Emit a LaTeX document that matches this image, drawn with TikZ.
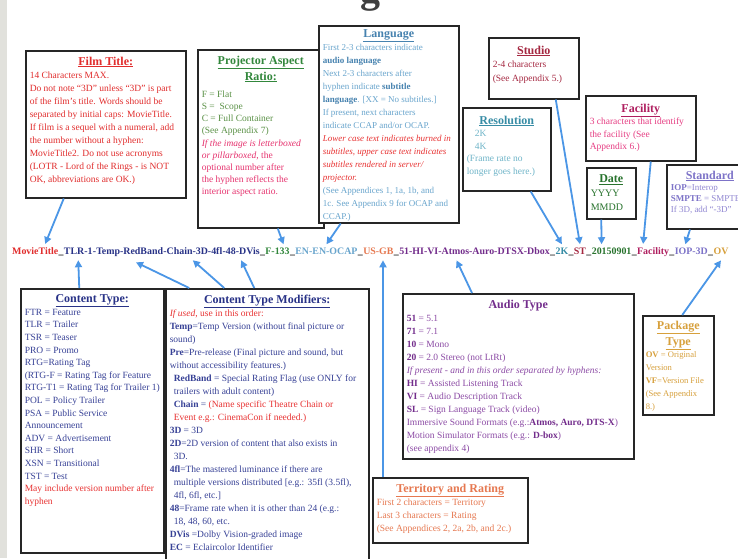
\documentclass[tikz,border=0pt]{standalone}
\usepackage{fontspec}
\setmainfont{Liberation Serif}
\usetikzlibrary{positioning,arrows.meta}
\definecolor{cfilm}{RGB}{225,45,45}
\definecolor{cprojt}{RGB}{50,135,60}
\definecolor{cproj}{RGB}{90,145,70}
\definecolor{cpink}{RGB}{230,50,110}
\definecolor{clangt}{RGB}{70,130,175}
\definecolor{clang}{RGB}{105,165,205}
\definecolor{cwarn}{RGB}{232,50,50}
\definecolor{cstudio}{RGB}{165,40,65}
\definecolor{cres}{RGB}{55,140,165}
\definecolor{cresl}{RGB}{110,180,200}
\definecolor{cfac}{RGB}{175,30,95}
\definecolor{cfacl}{RGB}{230,60,130}
\definecolor{cdate}{RGB}{40,115,45}
\definecolor{cstd}{RGB}{125,115,200}
\definecolor{cstdl}{RGB}{145,135,210}
\definecolor{cct}{RGB}{40,50,135}
\definecolor{cctl}{RGB}{55,65,150}
\definecolor{caud}{RGB}{115,45,140}
\definecolor{caudl}{RGB}{140,75,165}
\definecolor{cterr}{RGB}{230,120,80}
\definecolor{cpkg}{RGB}{215,160,60}
\definecolor{carrow}{RGB}{75,150,230}
\definecolor{cstrip}{RGB}{225,225,220}
\newcommand\infobox[3]{\begin{minipage}[t][#2][t]{#1}#3\end{minipage}}
\newcommand\boxtitle[2][2pt]{{\vspace*{#1}\centering\fontsize{12}{16}\selectfont\bfseries\underline{#2}\par}}

\begin{document}
\begin{tikzpicture}[x=1pt, y=-1pt,
    box/.style={draw=black!85, line width=1.5pt, fill=white, inner sep=4pt, anchor=north west, font=\fontsize{9.5}{12.6}\selectfont},
    seg/.style={inner sep=0pt, font=\fontsize{9.9}{11}\selectfont\bfseries},
    arr/.style={draw=carrow, line width=1.8pt, -{Triangle[length=7pt,width=7pt]}}]
    \useasboundingbox (0,0) rectangle (738,558);
    \clip (0,0) rectangle (738,558);
    \fill[white] (0,0) rectangle (738,558);
    \fill[cstrip] (0,0) rectangle (7,558);
    \node[font=\fontsize{40}{44}\selectfont\bfseries, text=black!75, anchor=base] (head) at (370,2) {g};

    \node[seg, anchor=base west, text=cfilm] (mt) at (12,254) {MovieTitle};
    \node[seg, base right=0pt of mt] (u1) {\_};
    \node[seg, base right=0pt of u1, text=cct] (tlr) {TLR-1};
    \node[seg, base right=0pt of tlr, text=cct] (tmp) {-Temp-RedBand};
    \node[seg, base right=0pt of tmp, text=cct] (chn) {-Chain-3D-4fl};
    \node[seg, base right=0pt of chn, text=cct] (dvs) {-48-DVis};
    \node[seg, base right=0pt of dvs] (u2) {\_};
    \node[seg, base right=0pt of u2, text=cprojt] (far) {F-133};
    \node[seg, base right=0pt of far] (u3) {\_};
    \node[seg, base right=0pt of u3, text=clang] (lng) {EN-EN-OCAP};
    \node[seg, base right=0pt of lng] (u4) {\_};
    \node[seg, base right=0pt of u4, text=cterr] (ter) {US-GB};
    \node[seg, base right=0pt of ter] (u5) {\_};
    \node[seg, base right=0pt of u5, text=caud] (aud) {51-HI-VI-Atmos-Auro-DTSX-Dbox};
    \node[seg, base right=0pt of aud] (u6) {\_};
    \node[seg, base right=0pt of u6, text=cres] (rsl) {2K};
    \node[seg, base right=0pt of rsl] (u7) {\_};
    \node[seg, base right=0pt of u7, text=cstudio] (stu) {ST};
    \node[seg, base right=0pt of stu] (u8) {\_};
    \node[seg, base right=0pt of u8, text=cdate] (dat) {20150901};
    \node[seg, base right=0pt of dat] (u9) {\_};
    \node[seg, base right=0pt of u9, text=cfac] (fcl) {Facility};
    \node[seg, base right=0pt of fcl] (u10) {\_};
    \node[seg, base right=0pt of u10, text=cstd] (iop) {IOP-3D};
    \node[seg, base right=0pt of iop] (u11) {\_};
    \node[seg, base right=0pt of u11, text=cpkg] (ov) {OV};

    \node[box, text=cfilm, font=\fontsize{9.5}{13}\selectfont] (film) at (25,50) {\infobox{152pt}{139pt}{\boxtitle{Film Title:}\raggedright
        14 Characters MAX.\\
        Do not note ``3D'' unless ``3D'' is part\\
        of the film's title. Words should be\\
        separated by initial caps: MovieTitle.\\
        If film is a sequel with a numeral, add\\
        the number without a hyphen:\\
        MovieTitle2. Do not use acronyms\\
        (LOTR - Lord of the Rings - is NOT\\
        OK, abbreviations are OK.)}};
    \node[box, text=cproj, font=\fontsize{9.5}{12.2}\selectfont] (proj) at (197,49) {\infobox{118pt}{170pt}{\color{cprojt}\boxtitle{Projector Aspect}\boxtitle[0pt]{Ratio:}\vspace*{5pt}\raggedright\color{cproj}
        F = Flat\\
        S = \ Scope\\
        C = Full Container\\
        (See Appendix 7)\\
        \color{cpink}\textit{If the image is letterboxed}\\
        \textit{or pillarboxed}, the\\
        optional number after\\
        the hyphen reflects the\\
        interior aspect ratio.}};
    \node[box, text=clang, font=\fontsize{9}{13}\selectfont] (lang) at (318,25) {\infobox{132pt}{189pt}{\color{clangt}\boxtitle[0pt]{Language}\raggedright\color{clang}
        First 2-3 characters indicate\\
        {\color{clangt}\textbf{audio language}}\\
        Next 2-3 characters after\\
        hyphen indicate {\color{clangt}\textbf{subtitle}}\\
        {\color{clangt}\textbf{language}}. [XX = No subtitles.]\\
        If present, next characters\\
        indicate CCAP and/or OCAP.\\
        {\color{cwarn}\itshape Lower case text indicates burned in\\
        subtitles, upper case text indicates\\
        subtitles rendered in server/\\
        projector.}\\
        (See Appendices 1, 1a, 1b, and\\
        1c. See Appendix 9 for OCAP and\\
        CCAP.)}};
    \node[box, text=cstudio, font=\fontsize{9.5}{13.5}\selectfont] (studio) at (488,37) {\infobox{82pt}{53pt}{\boxtitle[4pt]{Studio}\raggedright
        2-4 characters\\
        (See Appendix 5.)}};
    \node[box, text=cresl, font=\fontsize{9.5}{12.6}\selectfont] (res) at (462,107) {\infobox{80pt}{75pt}{\color{cres}\boxtitle[4pt]{Resolution}\raggedright\color{cresl}
        \hspace*{8pt}2K\\
        \hspace*{8pt}4K\\
        (Frame rate no\\
        longer goes here.)}};
    \node[box, text=cfacl, font=\fontsize{9.5}{12.6}\selectfont] (fac) at (585,95) {\infobox{102pt}{57pt}{\color{cfac}\boxtitle[4pt]{Facility}\raggedright\color{cfacl}
        3 characters that identify\\
        the facility (See\\
        Appendix 6.)}};
    \node[box, text=cdate, font=\fontsize{10}{14}\selectfont] (date) at (586,167) {\infobox{41pt}{43pt}{\boxtitle[3pt]{Date}\raggedright
        YYYY\\
        MMDD}};
    \node[box, text=cstdl, font=\fontsize{9}{11}\selectfont] (std) at (666,164) {\infobox{78pt}{56pt}{\color{cstd}\boxtitle{Standard}\raggedright\color{cstdl}
        {\color{cstd}\textbf{IOP}}=Interop\\
        {\color{cstd}\textbf{SMPTE}} = SMPTE\\
        If 3D, add ``-3D''}};

    \node[box, text=cctl] (ctype) at (20,288) {\infobox{135pt}{256pt}{\color{cct}\boxtitle{Content Type:}\raggedright\color{cctl}
        FTR = Feature\\
        TLR = Trailer\\
        TSR = Teaser\\
        PRO = Promo\\
        RTG=Rating Tag\\
        (RTG-F = Rating Tag for Feature\\
        RTG-T1 = Rating Tag for Trailer 1)\\
        POL = Policy Trailer\\
        PSA = Public Service\\
        Announcement\\
        ADV = Advertisement\\
        SHR = Short\\
        XSN = Transitional\\
        TST = Test\\
        {\color{cwarn}May include version number after\\
        hyphen}}};
    \node[box, text=cctl, font=\fontsize{9.5}{13}\selectfont] (cmod) at (165,288) {\infobox{195pt}{274pt}{\color{cct}\boxtitle{Content Type Modifiers:}\raggedright\color{cctl}
        {\color{cwarn}\textit{If used}, use in this order:}\\
        \textbf{Temp}=Temp Version (without final picture or\\
        sound)\\
        \textbf{Pre}=Pre-release (Final picture and sound, but\\
        without accessibility features.)\\
        \hspace*{4pt}\textbf{RedBand} = Special Rating Flag (use ONLY for\\
        \hspace*{4pt}trailers with adult content)\\
        \hspace*{4pt}\textbf{Chain} = {\color{cwarn}(Name specific Theatre Chain or\\
        \hspace*{4pt}Event e.g.: CinemaCon if needed.)}\\
        \textbf{3D} = 3D\\
        \textbf{2D}=2D version of content that also exists in\\
        \hspace*{4pt}3D.\\
        \textbf{4fl}=The mastered luminance if there are\\
        \hspace*{4pt}multiple versions distributed [e.g.: 35fl (3.5fl),\\
        \hspace*{4pt}4fl, 6fl, etc.]\\
        \textbf{48}=Frame rate when it is other than 24 (e.g.:\\
        \hspace*{4pt}18, 48, 60, etc.\\
        \textbf{DVis} =Dolby Vision-graded image\\
        \textbf{EC} = Eclaircolor Identifier}};
    \node[box, text=caudl, font=\fontsize{9.5}{13}\selectfont] (audio) at (402,293) {\infobox{223pt}{157pt}{{\vspace*{2pt}\centering\fontsize{12}{16}\selectfont\bfseries\color{caud}Audio Type\par}\raggedright
        {\color{caud}\textbf{51}} = 5.1\\
        {\color{caud}\textbf{71}} = 7.1\\
        {\color{caud}\textbf{10}} = Mono\\
        {\color{caud}\textbf{20}} = 2.0 Stereo (not LtRt)\\
        \textit{If present - and in this order separated by hyphens:}\\
        {\color{caud}\textbf{HI}} = Assisted Listening Track\\
        {\color{caud}\textbf{VI}} = Audio Description Track\\
        {\color{caud}\textbf{SL}} = Sign Language Track (video)\\
        Immersive Sound Formats (e.g.:{\color{caud}\textbf{Atmos, Auro, DTS-X}})\\
        Motion Simulator Formats (e.g.: {\color{caud}\textbf{D-box}})\\
        (see appendix 4)}};
    \node[box, text=cterr, font=\fontsize{9.5}{13}\selectfont] (terr) at (372,477) {\infobox{147pt}{57pt}{\boxtitle{Territory and Rating}\raggedright
        First 2 characters = Territory\\
        Last 3 characters = Rating\\
        (See Appendices 2, 2a, 2b, and 2c.)}};
    \node[box, text=cpkg, inner sep=3pt, font=\fontsize{8.6}{12.8}\selectfont] (pkg) at (642,315) {\infobox{65pt}{93pt}{\boxtitle{Package}\boxtitle[0pt]{Type}\raggedright
        \textbf{OV} = Original\\
        Version\\
        \textbf{VF}=Version File\\
        (See Appendix\\
        8.)}};

    \coordinate (tt) at ([xshift=11pt]terr.north west);
    \coordinate (tu) at ([yshift=-6pt]ter.south);
    \draw[arr] ([xshift=-42pt]film.south) -- ([xshift=10pt,yshift=3pt]mt.north);
    \draw[arr] ([xshift=17pt]proj.south) -- ([xshift=6pt,yshift=3pt]far.north);
    \draw[arr] ([xshift=-48pt]lang.south) -- ([yshift=3pt]lng.north);
    \draw[arr] ([xshift=24pt]res.south) -- ([yshift=3pt]rsl.north);
    \draw[arr] ([xshift=22pt]studio.south) -- ([yshift=3pt]stu.north);
    \draw[arr] ([xshift=-10pt]date.south) -- ([xshift=10pt,yshift=3pt]dat.north west);
    \draw[arr] ([xshift=10pt]fac.south) -- ([xshift=-10pt,yshift=3pt]fcl.north);
    \draw[arr] ([xshift=24pt]std.south west) -- ([xshift=-6pt,yshift=3pt]iop.north);
    \draw[arr] ([xshift=-13pt]ctype.north) -- ([yshift=-6pt]tlr.south);
    \draw[arr] ([xshift=-78pt]cmod.north) -- ([xshift=8pt,yshift=-6pt]tmp.south);
    \draw[arr] ([xshift=-43pt]cmod.north) -- ([yshift=-6pt]chn.south);
    \draw[arr] ([xshift=-13pt]cmod.north) -- ([yshift=-6pt]dvs.south);
    \draw[arr] (tt) -- (tt |- tu);
    \draw[arr] ([xshift=70pt]audio.north west) -- ([xshift=-18pt,yshift=-6pt]aud.south);
    \draw[arr] ([xshift=4pt]pkg.north) -- ([yshift=-6pt]ov.south);
\end{tikzpicture}
\end{document}
